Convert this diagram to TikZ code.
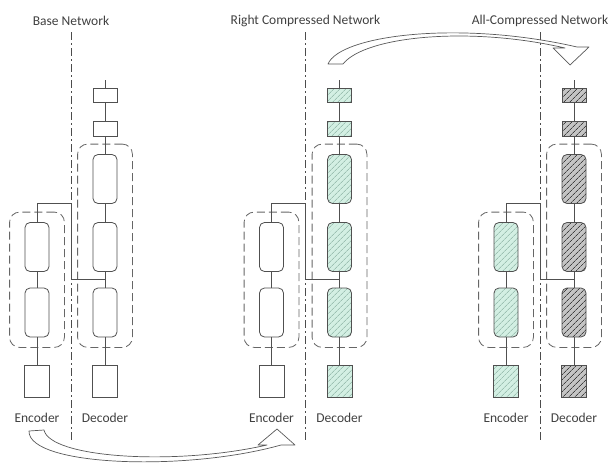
\documentclass[tikz,border=0pt]{standalone}
\usepackage{fontspec}
\setmainfont{Carlito}
\usetikzlibrary{patterns.meta,fit}

\definecolor{mintfill}{HTML}{D3EFE3}
\definecolor{minthatch}{HTML}{7FA898}
\definecolor{slatefill}{HTML}{C4C4C4}
\definecolor{slatehatch}{HTML}{404040}
\definecolor{linegray}{HTML}{505050}

\begin{document}
\begin{tikzpicture}[x=1pt,y=-1pt]
   \tikzstyle{every node}=[font=\fontsize{13.5}{15}\selectfont, text=black!75]
   \tikzstyle{blank}=[fill=white]
   \tikzstyle{mint}=[preaction={fill=mintfill}, pattern={Lines[angle=45,distance=4pt,line width=0.6pt]}, pattern color=minthatch]
   \tikzstyle{slate}=[preaction={fill=slatefill}, pattern={Lines[angle=45,distance=4pt,line width=0.7pt]}, pattern color=slatehatch]
   \tikzstyle{unit}=[draw=linegray, line width=0.8pt, inner sep=0pt, minimum width=24pt]
   \tikzstyle{cell}=[unit, rounded corners=5pt, minimum height=49pt]
   \tikzstyle{group}=[draw=black!60, line width=0.8pt, dash pattern=on 8pt off 4pt, rounded corners=10pt, inner xsep=15pt, inner ysep=10pt]
   \tikzstyle{divider}=[draw=black!70, line width=0.8pt, dash pattern=on 8pt off 3pt on 2pt off 3pt]
   \tikzstyle{link}=[draw=linegray, line width=0.8pt]
   \tikzstyle{fat}=[draw=black!65, line width=0.7pt, line join=round]

   \useasboundingbox (0,0) rectangle (613,463);

\foreach \d/\i/\enc/\dec/\name in {71/1/blank/blank/Base Network, 305.5/2/blank/mint/Right Compressed Network, 540/3/mint/slate/All-Compressed Network}
{
    \node (title-\i) at (\d,21) {\name};
    \draw[divider] (\d,32) -- (\d,440);

    % decoder column
    \coordinate (din-\i) at (\d+34,80);
    \node[unit, \dec, minimum height=14pt] (dt-\i) at (\d+34,95) {};
    \node[unit, \dec, minimum height=15pt] (ds-\i) at (\d+34,129) {};
    \node[cell, \dec] (dc1-\i) at (\d+34,179) {};
    \node[cell, \dec] (dc2-\i) at (\d+34,247) {};
    \node[cell, \dec] (dc3-\i) at (\d+34,312.5) {};
    \node[unit, \dec, minimum width=25pt, minimum height=32pt] (db-\i) at (\d+34,381) {};
    \node[group, fit=(dc1-\i)(dc3-\i)] (dg-\i) {};

    % encoder column
    \node[cell, \enc] (ec1-\i) at (\d-34,247) {};
    \node[cell, \enc] (ec2-\i) at (\d-34,312.5) {};
    \node[unit, \enc, minimum width=25pt, minimum height=32pt] (eb-\i) at (\d-34,381) {};
    \node[group, fit=(ec1-\i)(ec2-\i)] (eg-\i) {};

    \node (enc-\i) at (\d-34,418) {Encoder};
    \node (dec-\i) at (\d+34,418) {Decoder};

    \draw[link] (din-\i) -- (dt-\i) -- (ds-\i) -- (dc1-\i) -- (dc2-\i) -- (dc3-\i) -- (db-\i);
    \draw[link] (ec1-\i) -- (ec2-\i) -- (eb-\i);
    \coordinate (bend-\i) at (\d,203);
    \coordinate (join-\i) at (\d+34,279);
    \draw[link] (ec1-\i.north) |- (bend-\i) |- (join-\i);
}

% compression steps
\draw[fat] (44,430) .. controls (50,458) and (175,466) .. (267,445) -- (258,445) -- (277,429) -- (295,445) -- (281,445) .. controls (185,472) and (28,466) .. (29,431) -- cycle;
\draw[fat] (328,64) .. controls (340,35) and (460,20) .. (577,47) -- (589,47) -- (570,65) -- (553,48) -- (565,48) .. controls (470,26) and (365,36) .. (343,64) -- cycle;

\end{tikzpicture}
\end{document}
